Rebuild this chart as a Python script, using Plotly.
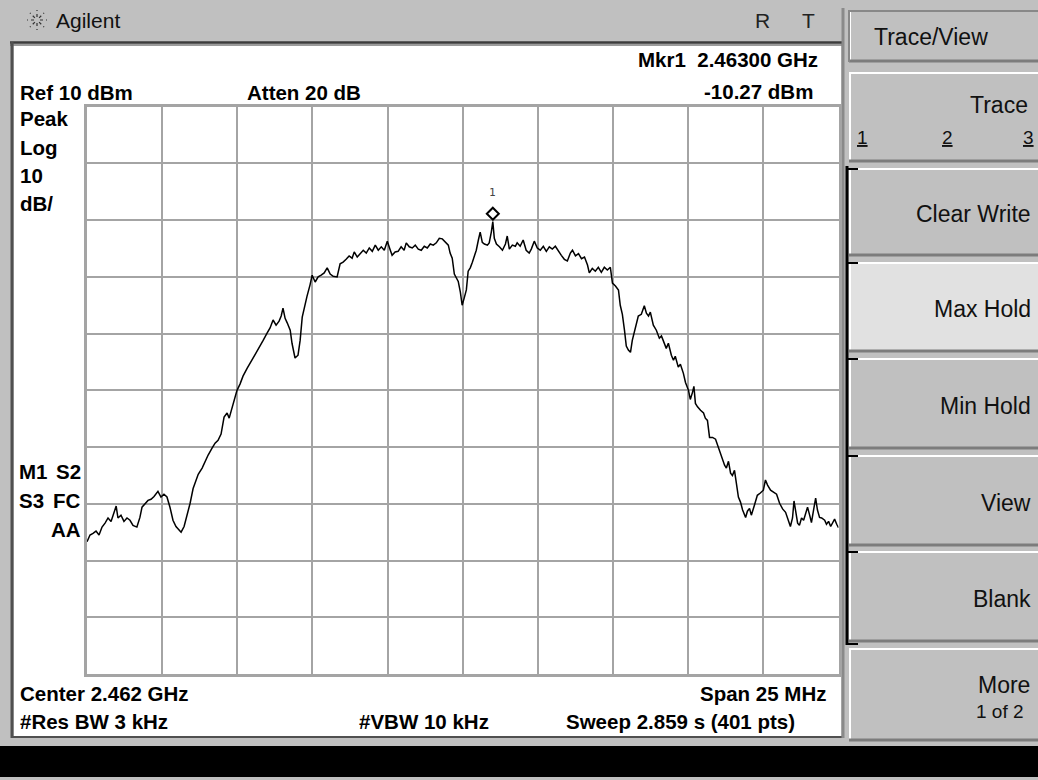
import math
import plotly.graph_objects as go

center_mhz = 2462.0
span_mhz = 25.0
ref_level_dbm = 10.0
db_per_div = 10.0
marker_freq_mhz = 2463.0
marker_level_dbm = -10.27

offset_mhz = [
    0, 0.10, 0.20, 0.30, 0.40, 0.50, 0.60, 0.70, 0.80, 0.87,
    0.97, 1.03, 1.13, 1.23, 1.33, 1.43, 1.53, 1.66, 1.76, 1.83,
    1.93, 2.03, 2.13, 2.23, 2.36, 2.46, 2.56, 2.66, 2.76, 2.86,
    2.96, 3.06, 3.13, 3.23, 3.33, 3.43, 3.53, 3.60, 3.70, 3.83,
    3.93, 4.03, 4.16, 4.26, 4.36, 4.46, 4.56, 4.66, 4.73, 4.83,
    4.93, 4.99, 5.09, 5.19, 5.33, 5.43, 5.53, 5.63, 5.76, 5.86,
    5.99, 6.09, 6.19, 6.29, 6.39, 6.46, 6.52, 6.59, 6.66, 6.76,
    6.82, 6.92, 7.02, 7.09, 7.16, 7.26, 7.32, 7.42, 7.49, 7.59,
    7.69, 7.79, 7.89, 7.99, 8.09, 8.19, 8.32, 8.42, 8.52, 8.62,
    8.72, 8.82, 8.89, 8.99, 9.09, 9.19, 9.29, 9.39, 9.49, 9.59,
    9.69, 9.79, 9.89, 9.99, 10.09, 10.15, 10.25, 10.35, 10.45, 10.55,
    10.62, 10.72, 10.82, 10.92, 11.02, 11.12, 11.22, 11.32, 11.42, 11.52,
    11.62, 11.72, 11.82, 11.92, 12.02, 12.08, 12.15, 12.22, 12.28, 12.35,
    12.42, 12.48, 12.55, 12.62, 12.68, 12.75, 12.82, 12.88, 12.95, 13.02,
    13.08, 13.15, 13.22, 13.32, 13.38, 13.45, 13.50, 13.55, 13.62, 13.72,
    13.82, 13.92, 13.98, 14.05, 14.15, 14.25, 14.31, 14.41, 14.51, 14.61,
    14.71, 14.78, 14.88, 14.98, 15.08, 15.18, 15.28, 15.38, 15.48, 15.58,
    15.68, 15.78, 15.88, 15.98, 16.08, 16.15, 16.25, 16.35, 16.45, 16.55,
    16.65, 16.71, 16.81, 16.91, 17.01, 17.11, 17.21, 17.31, 17.41, 17.48,
    17.58, 17.68, 17.74, 17.81, 17.88, 17.94, 18.01, 18.08, 18.14, 18.21,
    18.28, 18.34, 18.44, 18.54, 18.61, 18.68, 18.74, 18.84, 18.94, 19.04,
    19.11, 19.21, 19.27, 19.34, 19.44, 19.51, 19.57, 19.67, 19.74, 19.84,
    19.91, 20.01, 20.07, 20.14, 20.19, 20.24, 20.31, 20.41, 20.51, 20.57,
    20.64, 20.71, 20.81, 20.91, 21.01, 21.11, 21.21, 21.27, 21.34, 21.41,
    21.47, 21.54, 21.61, 21.67, 21.74, 21.81, 21.91, 21.97, 22.04, 22.10,
    22.20, 22.30, 22.40, 22.50, 22.57, 22.64, 22.74, 22.84, 22.94, 23.04,
    23.14, 23.24, 23.34, 23.40, 23.47, 23.52, 23.57, 23.64, 23.70, 23.77,
    23.84, 23.90, 23.97, 24.04, 24.10, 24.17, 24.24, 24.30, 24.37, 24.44,
    24.54, 24.60, 24.67, 24.74, 24.80, 24.87, 24.94, 25.00,
]

level_dbm = [
    -66.7, -65.5, -65.2, -64.8, -65.5, -64.1, -63.4, -62.5, -63.1, -61.8,
    -60.4, -62.5, -62.0, -63.1, -62.5, -62.9, -63.8, -64.1, -62.4, -60.6,
    -59.9, -59.4, -59.2, -58.7, -57.8, -58.8, -58.3, -58.8, -60.6, -62.9,
    -64.0, -64.7, -65.0, -64.0, -62.0, -59.9, -57.3, -56.2, -54.8, -53.7,
    -52.5, -51.4, -50.2, -49.3, -48.8, -47.7, -44.7, -44.0, -44.9, -43.0,
    -40.8, -40.0, -38.9, -37.5, -36.1, -35.2, -34.3, -33.4, -32.0, -31.2,
    -29.9, -29.0, -27.6, -28.5, -27.8, -26.9, -25.5, -27.3, -28.1, -29.4,
    -31.7, -34.3, -33.8, -31.2, -27.1, -24.6, -23.4, -21.4, -19.7, -20.9,
    -20.0, -19.7, -19.3, -18.4, -19.5, -19.9, -20.0, -17.7, -17.4, -16.9,
    -16.3, -16.7, -15.6, -16.5, -15.9, -15.3, -15.8, -14.9, -15.5, -14.4,
    -15.3, -14.7, -15.3, -13.7, -15.3, -16.2, -15.6, -15.5, -14.7, -15.3,
    -14.0, -14.7, -14.9, -14.4, -15.1, -15.3, -14.6, -14.9, -14.2, -14.4,
    -14.0, -13.2, -13.3, -13.9, -14.4, -15.8, -16.7, -19.5, -20.2, -20.8,
    -22.7, -25.0, -23.7, -22.3, -19.0, -18.4, -17.4, -16.5, -15.3, -13.5,
    -12.1, -13.9, -14.2, -14.4, -14.0, -12.1, -10.27, -13.2, -14.2, -14.7,
    -15.3, -14.2, -12.8, -15.1, -14.4, -14.6, -14.0, -14.6, -13.5, -15.3,
    -15.8, -15.1, -13.7, -14.9, -15.3, -14.6, -15.5, -14.7, -15.1, -14.6,
    -15.5, -16.2, -16.9, -17.2, -15.8, -15.3, -16.3, -15.9, -16.8, -16.5,
    -17.9, -19.3, -18.5, -19.0, -18.3, -19.2, -18.3, -18.8, -18.3, -21.1,
    -21.6, -22.3, -25.0, -26.6, -29.4, -32.2, -32.9, -33.3, -31.2, -29.7,
    -28.0, -26.9, -26.6, -25.1, -26.4, -26.9, -26.2, -28.5, -29.4, -30.8,
    -30.4, -31.9, -32.6, -31.7, -33.8, -34.7, -34.0, -35.9, -35.4, -37.0,
    -38.6, -40.0, -41.6, -40.4, -39.3, -42.3, -42.9, -43.5, -44.0, -44.9,
    -45.3, -48.3, -48.3, -48.6, -50.2, -51.6, -53.2, -53.7, -52.5, -54.6,
    -55.0, -54.1, -56.9, -58.8, -59.7, -61.1, -62.4, -61.3, -60.8, -62.0,
    -60.3, -58.5, -58.1, -57.6, -55.8, -56.7, -57.6, -57.9, -58.3, -59.9,
    -60.9, -61.5, -62.9, -64.0, -62.5, -59.5, -61.1, -63.4, -63.8, -62.5,
    -62.9, -62.0, -60.6, -62.0, -63.3, -61.1, -59.0, -61.1, -62.4, -62.5,
    -62.9, -63.6, -63.1, -64.0, -63.3, -62.7, -63.6, -64.2,
]

if len(offset_mhz) != len(level_dbm):
    raise SystemExit(f"length mismatch {len(offset_mhz)} vs {len(level_dbm)}")

softkey_labels = ["Clear Write", "Max Hold", "Min Hold", "View", "Blank"]

# ---------------- layout helpers ----------------
W, H = 1038, 780
GRAY = "#c0c0c0"
GRID = "#a4a4a4"


def px(x):
    return x / W


def py(y):
    return 1 - y / H


start_mhz = center_mhz - span_mhz / 2
freq_mhz = [start_mhz + o for o in offset_mhz]

fig = go.Figure()
fig.add_trace(go.Scatter(
    x=freq_mhz, y=level_dbm, mode="lines",
    line=dict(color="#000000", width=1.5), showlegend=False, hoverinfo="skip"))

shapes = []
annotations = []


def rect(x0, y0, x1, y1, fill, line_color=None, lw=0, layer="below"):
    shapes.append(dict(type="rect", xref="paper", yref="paper",
                       x0=px(x0), x1=px(x1), y0=py(y1), y1=py(y0),
                       fillcolor=fill, line=dict(width=lw, color=line_color or fill),
                       layer=layer))


def hline(x0, x1, y, color, lw, layer="below"):
    shapes.append(dict(type="line", xref="paper", yref="paper",
                       x0=px(x0), x1=px(x1), y0=py(y), y1=py(y),
                       line=dict(color=color, width=lw), layer=layer))


def vline(x, y0, y1, color, lw, layer="below"):
    shapes.append(dict(type="line", xref="paper", yref="paper",
                       x0=px(x), x1=px(x), y0=py(y0), y1=py(y1),
                       line=dict(color=color, width=lw), layer=layer))


def text(x, y, s, size=20, anchor="left", bold=False, color="#000000",
         family="Liberation Sans, Arial, sans-serif"):
    if bold:
        s = f"<b>{s}</b>"
    annotations.append(dict(xref="paper", yref="paper", x=px(x), y=py(y),
                            text=s, showarrow=False, xanchor=anchor,
                            yanchor="middle", align=anchor,
                            font=dict(size=size, color=color, family=family)))


# ----- screen frame -----
rect(14, 44, 841, 736, "#ffffff")          # white screen
hline(10, 842, 42.5, "#3c3c3c", 2.5)        # under title bar
hline(10, 842, 45, "#7a7a7a", 1.5)
vline(12, 42, 738, "#505050", 3)           # left border
hline(12, 842, 737, "#505050", 2)          # bottom border
vline(843, 8, 738, "#8a8a8a", 3)           # right edge strip
rect(0, 746, W, 777, "#000000")            # black status bar

# ----- title bar texts / logo -----
cx, cy = 37, 20
for k in range(8):
    a = k * math.pi / 4
    shapes.append(dict(type="line", xref="paper", yref="paper",
                       x0=px(cx + 3 * math.cos(a)), y0=py(cy + 3 * math.sin(a)),
                       x1=px(cx + 10 * math.cos(a)), y1=py(cy + 10 * math.sin(a)),
                       line=dict(color="#333333", width=1.2, dash="dot"),
                       layer="below"))
text(54, 20, "Agilent", size=21, color="#111111")
text(762, 20, "R", size=21, anchor="center", color="#222222")
text(808, 20, "T", size=21, anchor="center", color="#222222")

# ----- softkey panel -----
def button(y0, y1, fill=GRAY):
    rect(849, y0, W + 2, y1, fill)
    hline(849, W, y0 + 1, "#ffffff", 2)
    vline(850, y0, y1, "#ffffff", 2)
    hline(849, W, y1 - 1, "#7c7c7c", 3)


button(10, 62)
hline(849, W, 11, "#888888", 2)
vline(849, 10, 62, "#888888", 2)
text(872, 37, "Trace/View", size=23, color="#111111")

button(72, 162)
text(1030, 105, "Trace", size=23, anchor="right", color="#111111")
text(855, 137, "<u>1</u>", size=19, color="#111111")
text(947, 137, "<u>2</u>", size=19, anchor="center", color="#111111")
text(1036, 137, "<u>3</u>", size=19, anchor="right", color="#111111")

btn_rows = [(168, 256), (262, 352), (358, 449), (455, 546), (551, 642)]
for (y0, y1), lab in zip(btn_rows, softkey_labels):
    fill = "#e1e1e1" if lab == "Max Hold" else GRAY
    button(y0, y1, fill)
    text(1033, (y0 + y1) / 2 + 2, lab, size=23, anchor="right", color="#111111")

button(648, 741)
text(1032, 685, "More", size=23, anchor="right", color="#111111")
text(1000, 711, "1 of 2", size=19, anchor="center", color="#111111")

# bracket on active softkeys
vline(847, 166, 645, "#000000", 3)
for y0, _ in btn_rows:
    hline(846, 858, y0 + 1, "#000000", 2)
hline(846, 858, 644, "#000000", 2)

# ----- on-screen annotations -----
B = dict(size=20.5, bold=True, family="Liberation Sans, Arial, sans-serif")
text(820, 60, "Mkr1\u00a0\u00a02.46300 GHz", anchor="right", **B)
text(815, 91, "-10.27 dBm", anchor="right", **B)
text(18, 92, "Ref 10 dBm", **B)
text(245, 92, "Atten 20 dB", **B)
text(18, 118, "Peak", **B)
text(18, 147, "Log", **B)
text(18, 176, "10", **B)
text(18, 204, "dB/", **B)
text(17, 471, "M1", **B)
text(83, 471, "S2", anchor="right", **B)
text(17, 500, "S3", **B)
text(83, 500, "FC", anchor="right", **B)
text(83, 529, "AA", anchor="right", **B)
text(18, 693, "Center 2.462 GHz", **B)
text(828, 693, "Span 25 MHz", anchor="right", **B)
text(18, 721, "#Res BW 3 kHz", **B)
text(357, 721, "#VBW 10 kHz", **B)
text(797, 721, "Sweep 2.859 s (401 pts)", anchor="right", **B)

# ----- marker diamond + label (pixel offsets above the marker point) -----
shapes.append(dict(type="path", xref="x", yref="y",
                   xsizemode="pixel", ysizemode="pixel",
                   xanchor=marker_freq_mhz, yanchor=marker_level_dbm,
                   path="M 0 2 L 6 8 L 0 14 L -6 8 Z",
                   line=dict(color="#000000", width=2), fillcolor="rgba(0,0,0,0)",
                   layer="above"))
annotations.append(dict(xref="x", yref="y", x=marker_freq_mhz, y=marker_level_dbm,
                        text="1", showarrow=False, yshift=29, xanchor="center",
                        yanchor="middle",
                        font=dict(size=11, color="#444444",
                                  family="DejaVu Sans Mono, monospace")))

x_dom = [px(87), px(838.5)]
y_dom = [py(674), py(106.7)]

fig.update_layout(
    width=W, height=H, autosize=False,
    margin=dict(l=0, r=0, t=0, b=0, pad=0),
    paper_bgcolor=GRAY, plot_bgcolor="#ffffff",
    shapes=shapes, annotations=annotations,
    xaxis=dict(domain=x_dom, range=[start_mhz, start_mhz + span_mhz],
               tick0=start_mhz, dtick=span_mhz / 10, showgrid=True,
               gridcolor=GRID, gridwidth=2, showticklabels=False, ticks="",
               zeroline=False, showline=True, linecolor=GRID, linewidth=3,
               mirror=True, fixedrange=True),
    yaxis=dict(domain=y_dom,
               range=[ref_level_dbm - 10 * db_per_div, ref_level_dbm],
               tick0=ref_level_dbm, dtick=db_per_div, showgrid=True,
               gridcolor=GRID, gridwidth=2, showticklabels=False, ticks="",
               zeroline=False, showline=True, linecolor=GRID, linewidth=3,
               mirror=True, fixedrange=True),
    showlegend=False,
)

fig.write_html(
    "out.html",
    config={"displayModeBar": False},
    post_script="document.body.style.margin='0';document.body.style.overflow='hidden';",
)
